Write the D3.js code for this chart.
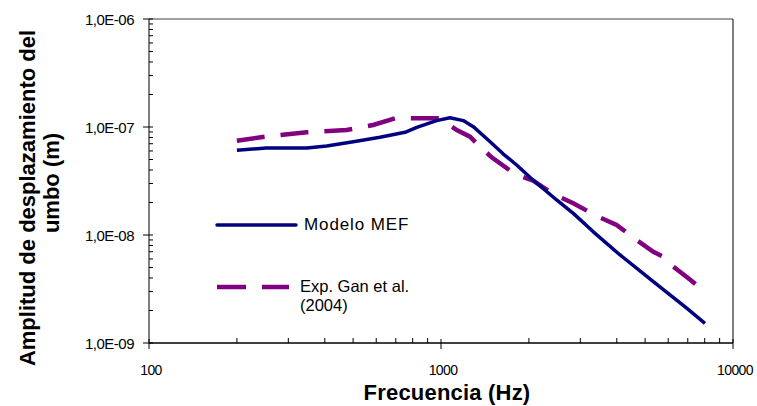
<!DOCTYPE html>
<html><head><meta charset="utf-8">
<script src="https://cdn.jsdelivr.net/npm/d3@7"></script>
<style>body{margin:0;background:#fff}svg{display:block}text{font-family:Arial,"Liberation Sans",sans-serif}</style>
</head><body><svg id="c" width="757" height="406"></svg>
<script>
const mefFreq = [200,252,347,406,501,618,753,826,966,1073,1192,1290,1473,1635,1816,2017,2489,2838,3324,4105,5336,6939,8017];
const mefAmp = [6.08e-8,6.4e-8,6.4e-8,6.67e-8,7.31e-8,8.04e-8,8.93e-8,9.93e-8,1.146e-7,1.22e-7,1.146e-7,1.007e-7,7.31e-8,5.62e-8,4.45e-8,3.42e-8,2.11e-8,1.585e-8,1.07e-8,6.53e-9,3.70e-9,2.10e-9,1.52e-9];
const ganFreq = [200,249,347,475,586,697,803,990,1132,1257,1343,1491,1791,2069,2456,2838,3413,3993,4673,5336,5848,6250,7030,8130];
const ganAmp = [7.46e-8,8.13e-8,8.93e-8,9.37e-8,1.044e-7,1.205e-7,1.205e-7,1.205e-7,9.37e-8,8.13e-8,6.81e-8,5.24e-8,3.67e-8,3.18e-8,2.35e-8,1.97e-8,1.50e-8,1.24e-8,9.0e-9,7.0e-9,6.16e-9,5.08e-9,3.98e-9,2.89e-9];
const xTicks = [100,1000,10000];
const xTickLabels = ["100","1000","10000"];
const yTicks = [1e-9,1e-8,1e-7,1e-6];
const yTickLabels = ["1,0E-09","1,0E-08","1,0E-07","1,0E-06"];
const seriesNames = ["Modelo MEF",["Exp. Gan et al.","(2004)"]];
const xTitle = "Frecuencia (Hz)";
const yTitle = ["Amplitud de desplazamiento del","umbo (m)"];

const svg = d3.select("#c");
const L=149, R=733, T=19, B=343;
const x = d3.scaleLog().domain([100,10000]).range([L,R]);
const y = d3.scaleLog().domain([1e-9,1e-6]).range([B,T]);

const minorX=[], minorY=[];
for(let d=100; d<10000; d*=10) for(let k=2;k<10;k++) minorX.push(d*k);
for(let d=1e-9; d<1e-6*0.99; d*=10) for(let k=2;k<10;k++) minorY.push(d*k);

const g = svg.append("g");
g.append("line").attr("x1",L).attr("x2",R).attr("y1",T).attr("y2",T).attr("stroke","#808080").attr("stroke-width",1.5);
g.append("line").attr("x1",R).attr("x2",R).attr("y1",T).attr("y2",B).attr("stroke","#000").attr("stroke-width",1);

g.selectAll(".mx").data(minorX).join("line").attr("x1",d=>x(d)).attr("x2",d=>x(d)).attr("y1",B).attr("y2",B-5).attr("stroke","#000");
g.selectAll(".my").data(minorY).join("line").attr("y1",d=>y(d)).attr("y2",d=>y(d)).attr("x1",L).attr("x2",L+4).attr("stroke","#000");
g.selectAll(".Mx").data(xTicks).join("line").attr("x1",d=>x(d)).attr("x2",d=>x(d)).attr("y1",B-4).attr("y2",B+6).attr("stroke","#000");
g.selectAll(".My").data(yTicks).join("line").attr("y1",d=>y(d)).attr("y2",d=>y(d)).attr("x1",L-6).attr("x2",L+4).attr("stroke","#000");
g.append("line").attr("x1",L).attr("x2",L).attr("y1",T).attr("y2",B).attr("stroke","#000");
g.append("line").attr("x1",L).attr("x2",R).attr("y1",B).attr("y2",B).attr("stroke","#000").attr("stroke-width",1.3);

g.selectAll(".xl").data(xTicks).join("text").attr("x",d=>x(d)+2).attr("y",375).attr("text-anchor","middle")
 .attr("font-size",14).attr("letter-spacing",-0.6).text((d,i)=>xTickLabels[i]);
g.selectAll(".yl").data(yTicks).join("text").attr("x",L-15).attr("y",d=>y(d)+5.5).attr("text-anchor","end")
 .attr("font-size",15).attr("letter-spacing",-0.5).text((d,i)=>yTickLabels[i]);

svg.append("text").attr("x",447).attr("y",400).attr("text-anchor","middle").attr("font-size",22).attr("font-weight","bold").attr("letter-spacing",0.2).text(xTitle);
const yt = svg.append("g");
yt.append("text").attr("transform","translate(35,198) rotate(-90)").attr("text-anchor","middle").attr("font-size",22).attr("font-weight","bold").text(yTitle[0]);
yt.append("text").attr("transform","translate(59,183) rotate(-90)").attr("text-anchor","middle").attr("font-size",22).attr("font-weight","bold").text(yTitle[1]);

const line = d3.line().x(d=>x(d[0])).y(d=>y(d[1]));
svg.append("path").datum(ganFreq.map((f,i)=>[f,ganAmp[i]])).attr("d",line).attr("fill","none")
 .attr("stroke","#800080").attr("stroke-width",4.5).attr("stroke-dasharray","28,16");
svg.append("path").datum(mefFreq.map((f,i)=>[f,mefAmp[i]])).attr("d",line).attr("fill","none")
 .attr("stroke","#000080").attr("stroke-width",3.5).attr("stroke-linejoin","round");

svg.append("line").attr("x1",217).attr("x2",296).attr("y1",225).attr("y2",225).attr("stroke","#000080").attr("stroke-width",3.5).attr("stroke-linecap","round");
svg.append("text").attr("x",304).attr("y",230).attr("font-size",17).attr("letter-spacing",0.9).text(seriesNames[0]);
svg.append("line").attr("x1",217).attr("x2",289).attr("y1",287).attr("y2",287).attr("stroke","#800080").attr("stroke-width",4.5).attr("stroke-dasharray","29,16");
svg.append("g").selectAll("text").data(seriesNames[1]).join("text").attr("x",300).attr("y",(d,i)=>292+i*19).attr("font-size",16.5).attr("letter-spacing",0).text(d=>d);
</script></body></html>
